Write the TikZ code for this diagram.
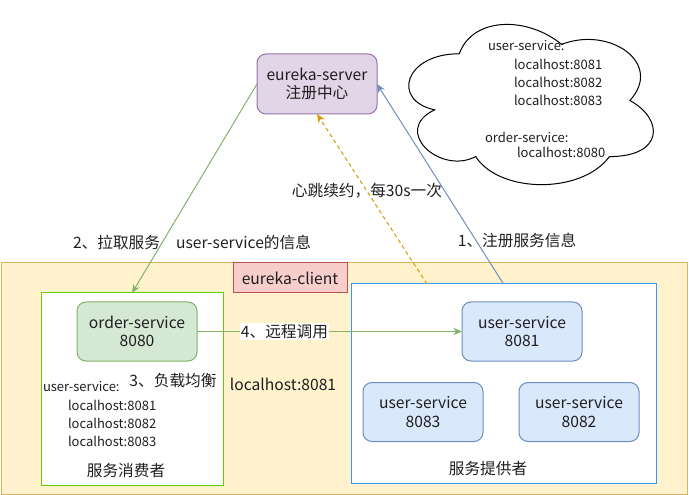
\documentclass[tikz,border=0pt]{standalone}
\usepackage{fontspec}
\setmainfont{Noto Sans CJK SC}
\usetikzlibrary{arrows.meta,calc}
\definecolor{yfill}{HTML}{FFF2CC}\definecolor{ydraw}{HTML}{D6B656}
\definecolor{rfill}{HTML}{F8CECC}\definecolor{rdraw}{HTML}{B85450}
\definecolor{gfill}{HTML}{D5E8D4}\definecolor{gdraw}{HTML}{82B366}
\definecolor{bfill}{HTML}{DAE8FC}\definecolor{bdraw}{HTML}{6C8EBF}
\definecolor{pfill}{HTML}{E1D5E7}\definecolor{pdraw}{HTML}{9673A6}
\definecolor{odraw}{HTML}{D79B00}
\definecolor{consdraw}{HTML}{66CC00}\definecolor{provdraw}{HTML}{3399FF}
\definecolor{txt}{HTML}{1F1F1F}
\tikzset{
  every node/.style={text=txt, inner sep=0pt, outer sep=0pt},
  big/.style={font=\fontsize{11.75pt}{14pt}\selectfont},
  small/.style={font=\fontsize{9.75pt}{12pt}\selectfont},
  svc/.style={draw, rounded corners=6.75pt, line width=0.75pt, minimum width=90pt, minimum height=44.25pt, align=center, big},
  container/.style={draw, line width=0.75pt},
  arr/.style={line width=0.75pt, -{Stealth[length=6.5pt,width=5.5pt]}},
}
\begin{document}
\begin{tikzpicture}[x=0.75pt,y=-0.75pt]
\useasboundingbox (0,0) rectangle (689,495);
% yellow client area
\node[container, draw=ydraw, fill=yfill, minimum width=686*0.75pt, minimum height=231*0.75pt] (client) at (344,378.5) {};
\node[container, draw=rdraw, fill=rfill, minimum width=114*0.75pt, minimum height=30*0.75pt, big] (clientlbl) at (290,278) {eureka-client};
% consumer
\node[container, draw=consdraw, fill=white, minimum width=182*0.75pt, minimum height=192*0.75pt] (cons) at (132,389) {};
% provider
\node[container, draw=provdraw, fill=white, minimum width=305*0.75pt, minimum height=199*0.75pt] (prov) at (503.5,383.5) {};
% services
\node[svc, draw=gdraw, fill=gfill] (os) at (137,331.5) {order-service\\8080};
\node[svc, draw=bdraw, fill=bfill] (us1) at (522,331.5) {user-service\\8081};
\node[svc, draw=bdraw, fill=bfill] (us3) at (423,412) {user-service\\8083};
\node[svc, draw=bdraw, fill=bfill] (us2) at (579,412) {user-service\\8082};
\node[svc, draw=pdraw, fill=pfill, minimum height=45pt] (es) at (317,84) {eureka-server\\注册中心};
% cloud
\draw[line width=0.75pt, fill=white] (459.25,53.75)
  .. controls (404.65,53.75) and (391,100.5) .. (434.68,109.85)
  .. controls (391,130.42) and (440.14,175.3) .. (475.63,156.6)
  .. controls (500.2,194) and (582.1,194) .. (609.4,156.6)
  .. controls (664,156.6) and (664,119.2) .. (629.9,100.5)
  .. controls (664,63.1) and (609.4,25.7) .. (561.6,44.4)
  .. controls (527.5,16.35) and (472.9,16.35) .. cycle;
\node[small, anchor=west] (c1) at (488,46) {user-service:};
\node[small, anchor=west] (c2) at (514,64) {localhost:8081};
\node[small, anchor=west] (c3) at (514,82) {localhost:8082};
\node[small, anchor=west] (c4) at (514,100) {localhost:8083};
\node[small, anchor=west] (c5) at (485,137) {order-service:};
\node[small, anchor=west] (c6) at (517,152) {localhost:8080};
% consumer texts
\node[small, anchor=west] (u0) at (43,387) {user-service:};
\node[small, anchor=west] (u1) at (68,405) {localhost:8081};
\node[small, anchor=west] (u2) at (68,423) {localhost:8082};
\node[small, anchor=west] (u3) at (68,441) {localhost:8083};
\node[big] (conslbl) at (126,471) {服务消费者};
\node[big] (provlbl) at (488,469) {服务提供者};
\node[big] (lb) at (173,381) {3、负载均衡};
\node[big] (lh) at (283,384) {localhost:8081};
% connectors
\coordinate (hb) at (427,284);
\draw[arr, draw=gdraw] (es.west) -- (cons.north);
\draw[arr, draw=bdraw] (prov.north) -- (es.east);
\draw[arr, draw=odraw, dashed, dash pattern=on 3pt off 2.25pt] (hb) -- (es.south);
\draw[arr, draw=gdraw] (os.east) -- node[big, pos=0.33, fill=white, inner sep=1pt] (rc) {4、远程调用} (us1.west);
% labels
\node[big] (l2) at (192,242) {2、拉取服务\hspace{12pt}user-service的信息};
\node[big] (l1) at (517,241) {1、注册服务信息};
\node[big] (l3) at (367,191) {心跳续约，每30s一次};
\end{tikzpicture}
\end{document}
